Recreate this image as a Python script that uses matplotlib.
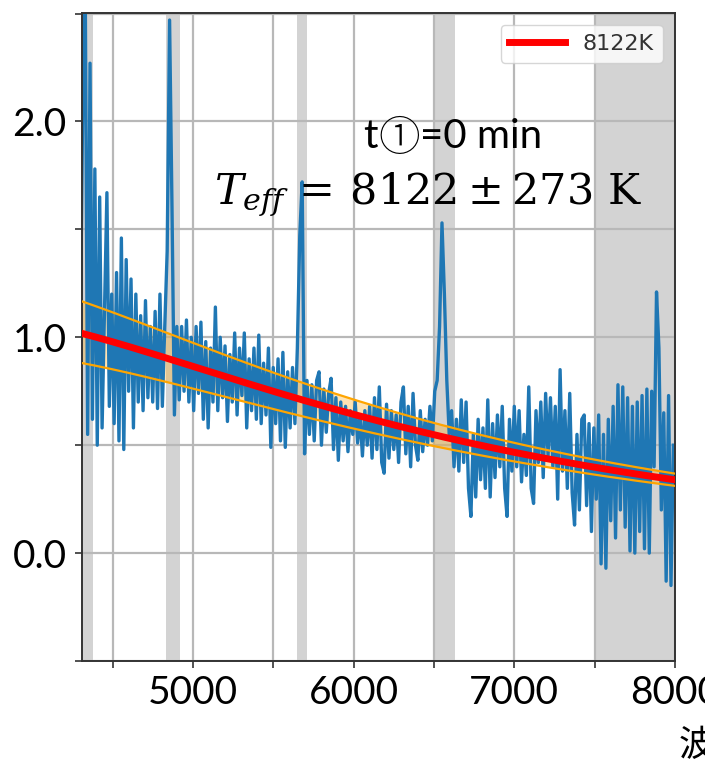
import numpy as np
import matplotlib
matplotlib.use("Agg")
import matplotlib.pyplot as plt
from matplotlib.ticker import MultipleLocator, FormatStrFormatter

# Observed spectrum (relative flux), sampled evenly from 4300 to 7990 Å
flux = [
    1.05, 2.12, 2.65, 0.55, 2.27, 0.62, 1.78, 0.50, 1.65, 0.58,
    1.12, 1.67, 0.68, 1.20, 0.60, 1.30, 0.52, 1.46, 0.48, 1.36,
    0.75, 1.27, 0.58, 1.20, 0.70, 1.10, 0.66, 1.17, 0.72, 1.05,
    0.70, 1.12, 0.67, 1.20, 0.68, 1.05, 1.40, 2.47, 1.60, 0.64,
    1.05, 0.71, 1.05, 0.75, 1.08, 0.70, 1.00, 0.66, 1.05, 0.74,
    1.07, 0.62, 0.98, 0.58, 0.95, 0.70, 1.14, 0.66, 1.00, 0.72,
    0.96, 0.61, 0.92, 0.70, 1.02, 0.64, 0.95, 0.73, 1.02, 0.58,
    0.90, 0.66, 0.95, 0.62, 1.01, 0.60, 0.88, 0.64, 0.95, 0.49,
    0.86, 0.60, 0.90, 0.52, 0.93, 0.49, 0.84, 0.58, 0.86, 0.60,
    0.95, 1.47, 1.72, 0.46, 0.80, 0.55, 0.78, 0.52, 0.80, 0.84,
    0.50, 0.76, 0.56, 0.74, 0.81, 0.48, 0.72, 0.43, 0.70, 0.52,
    0.68, 0.47, 0.66, 0.55, 0.70, 0.51, 0.64, 0.45, 0.66, 0.50,
    0.68, 0.44, 0.72, 0.48, 0.77, 0.42, 0.37, 0.69, 0.44, 0.66,
    0.48, 0.64, 0.42, 0.70, 0.77, 0.46, 0.68, 0.40, 0.74, 0.50,
    0.43, 0.66, 0.47, 0.62, 0.50, 0.68, 0.52, 0.75, 0.80, 1.05,
    1.53, 1.20, 0.80, 0.55, 0.66, 0.40, 0.62, 0.38, 0.71, 0.42,
    0.70, 0.30, 0.17, 0.55, 0.26, 0.62, 0.34, 0.58, 0.30, 0.71,
    0.26, 0.60, 0.35, 0.64, 0.40, 0.68, 0.30, 0.17, 0.62, 0.38,
    0.68, 0.40, 0.66, 0.33, 0.55, 0.36, 0.77, 0.30, 0.23, 0.66,
    0.42, 0.70, 0.35, 0.74, 0.45, 0.72, 0.40, 0.68, 0.25, 0.85,
    0.38, 0.66, 0.30, 0.74, 0.28, 0.13, 0.55, 0.20, 0.62, 0.64,
    0.22, 0.60, 0.10, 0.58, 0.25, 0.64, -0.05, 0.55, -0.07, 0.62,
    0.15, 0.68, 0.07, 0.78, 0.20, 0.77, 0.12, 0.72, 0.01, 0.68,
    0.00, 0.70, 0.10, 0.73, 0.02, 0.76, 0.00, 0.75, 0.40, 1.21,
    0.95, 0.20, 0.65, -0.13, 0.73, -0.15, 0.50,
]
wave = np.linspace(4300, 7990, len(flux))

# Wavelength ranges excluded from the fit (emission lines, telluric region)
mask_lo = [4300, 4833, 5650, 6503, 7500]
mask_hi = [4380, 4917, 5713, 6628, 8000]

# Blackbody fit
T_fit = 8122
T_err = 273
norm_wave = 4300
norm_flux = 1.02


def planck(lam_aa, T):
    lam = lam_aa * 1e-10
    h, c, k = 6.626e-34, 2.998e8, 1.381e-23
    return lam ** -5 / (np.exp(h * c / (lam * k * T)) - 1.0)


grid = np.linspace(4300, 8000, 400)
scale = norm_flux / planck(norm_wave, T_fit)
bb_mid = scale * planck(grid, T_fit)
bb_hi = scale * planck(grid, T_fit + T_err)
bb_lo = scale * planck(grid, T_fit - T_err)

fig = plt.figure(figsize=(7.05, 7.67), dpi=100)
ax = fig.add_axes([82 / 705, 1 - 661 / 767, (675 - 82) / 705, (661 - 12.5) / 767])

for lo, hi in zip(mask_lo, mask_hi):
    ax.axvspan(lo, hi, color="lightgray", lw=0, zorder=0.2)

ax.fill_between(grid, bb_lo, bb_hi, color="orange", alpha=0.3, lw=0, zorder=1.5)
ax.plot(wave, flux, color="#1f77b4", lw=2.4, zorder=2)
ax.plot(grid, bb_hi, color="orange", lw=1.6, zorder=3)
ax.plot(grid, bb_lo, color="orange", lw=1.6, zorder=3)
ax.plot(grid, bb_mid, color="red", lw=5, zorder=4, label=f"{T_fit}K")

ax.set_xlim(4310, 8000)
ax.set_ylim(-0.5, 2.505)

ax.xaxis.set_major_locator(MultipleLocator(1000))
ax.xaxis.set_minor_locator(MultipleLocator(500))
ax.yaxis.set_major_locator(MultipleLocator(1.0))
ax.yaxis.set_minor_locator(MultipleLocator(0.5))
ax.yaxis.set_major_formatter(FormatStrFormatter("%.1f"))

ax.grid(True, which="both", color="#b8b8b8", lw=1.6)
ax.set_axisbelow(True)

for s in ax.spines.values():
    s.set_color("#333333")
    s.set_linewidth(1.4)

ax.tick_params(which="both", direction="out", length=5, width=1.2, color="#333333")
ax.tick_params(which="major", labelsize=28)
ax.tick_params(axis="x", which="major", pad=5)
ax.tick_params(axis="y", which="major", pad=6)
for lab in ax.get_xticklabels() + ax.get_yticklabels():
    lab.set_family(["Lato", "DejaVu Sans"])

leg = ax.legend(loc="upper right", fontsize=16, handlelength=2.5,
                framealpha=0.8, borderaxespad=0.55)
for t in leg.get_texts():
    t.set_color("#333333")

# Time label, with the circled numeral set a little larger
lbl_font = ["Lato", "DejaVu Sans"]
fig.text(363 / 705, 1 - 148 / 767, "t", fontsize=29, family=lbl_font, va="baseline")
fig.text(378 / 705, 1 - 151 / 767, "①", fontsize=30,
         family=["Noto Sans CJK JP"], weight="light", va="baseline")
fig.text(420 / 705, 1 - 148 / 767, "=0 min", fontsize=29, family=lbl_font,
         va="baseline")
fig.text(214 / 705, 1 - 204 / 767,
         r"$T_{eff}\,=\,8122\pm273\ \mathrm{K}$",
         fontsize=31, math_fontfamily="dejavuserif", va="baseline")
fig.text(679 / 705, 1 - 746 / 767, "波長", fontsize=26,
         family=["Noto Sans CJK JP"], va="center", ha="left")

fig.savefig("out.png", dpi=100)
